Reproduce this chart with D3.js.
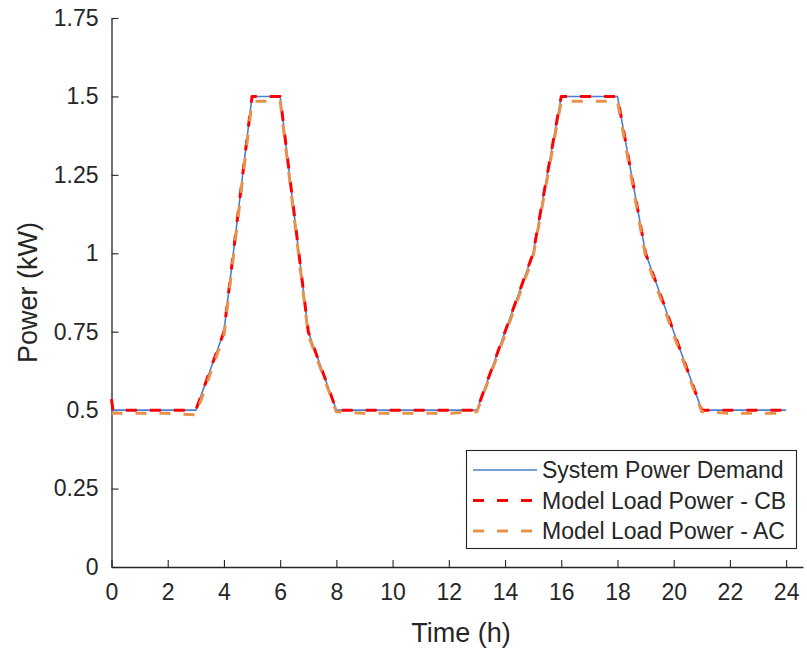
<!DOCTYPE html>
<html>
<head>
<meta charset="utf-8">
<script src="https://cdn.jsdelivr.net/npm/d3@7"></script>
<style>
  body { margin: 0; background: #fff; }
  text { font-family: "Liberation Sans", Arial, sans-serif; fill: #262626; }
</style>
</head>
<body>
<svg id="chart" width="807" height="656"></svg>
<script>
  'use strict'

  // Hourly time grid (h).
  var hours = [0,1,2,3,4,5,6,7,8,9,10,11,12,13,14,15,16,17,18,19,20,21,22,23,24];

  // System power demand (kW).
  var demand = [0.5,0.5,0.5,0.5,0.75,1.5,1.5,0.75,0.5,0.5,0.5,0.5,0.5,0.5,0.75,1.0,1.5,1.5,1.5,1.0,0.75,0.5,0.5,0.5,0.5];

  // Model load power - CB (starts slightly high at t=0).
  var cbTime  = [0,0.05,1,2,3,4,5,6,7,8,9,10,11,12,13,14,15,16,17,18,19,20,21,22,23,24];
  var cbPower = [0.535,0.5,0.5,0.5,0.5,0.75,1.5,1.5,0.75,0.5,0.5,0.5,0.5,0.5,0.5,0.75,1.0,1.5,1.5,1.5,1.0,0.75,0.5,0.5,0.5,0.5];

  // Model load power - AC (sits a little below demand).
  var acPower = [0.49,0.49,0.49,0.485,0.74,1.485,1.485,0.74,0.495,0.49,0.49,0.49,0.49,0.495,0.74,0.99,1.485,1.485,1.485,0.99,0.74,0.495,0.49,0.49,0.49];

  var xTicks = [0,2,4,6,8,10,12,14,16,18,20,22,24];
  var yTicks = [0,0.25,0.5,0.75,1,1.25,1.5,1.75];

  var legendNames = ['System Power Demand', 'Model Load Power - CB', 'Model Load Power - AC'];

  var svg = d3.select('#chart');

  var x = d3.scaleLinear().domain([0, 24.6]).range([111.5, 803]);
  var y = d3.scaleLinear().domain([0, 1.75]).range([567, 18]);

  var axisColor = '#262626';

  // Axes.
  var gx = svg.append('g')
    .attr('transform', 'translate(0,' + y(0) + ')')
    .call(d3.axisBottom(x).tickValues(xTicks).tickFormat(d3.format('d'))
      .tickSizeInner(-7).tickSizeOuter(0).tickPadding(17));
  var gy = svg.append('g')
    .attr('transform', 'translate(' + x(0) + ',0)')
    .call(d3.axisLeft(y).tickValues(yTicks).tickFormat(function(d) { return String(d); })
      .tickSizeInner(-7).tickSizeOuter(0).tickPadding(13));

  [gx, gy].forEach(function(g) {
    g.select('.domain').attr('stroke', axisColor).attr('stroke-width', 1.3);
    g.selectAll('.tick line').attr('stroke', axisColor).attr('stroke-width', 1.1);
    g.selectAll('.tick text')
      .style('font-family', '"Liberation Sans", Arial, sans-serif')
      .style('font-size', '23px')
      .attr('fill', axisColor);
  });

  // Axis titles.
  svg.append('text')
    .attr('x', 461).attr('y', 642)
    .attr('text-anchor', 'middle')
    .style('font-size', '27px')
    .text('Time (h)');
  svg.append('text')
    .attr('transform', 'translate(37,' + ((y(0) + y(1.75)) / 2) + ') rotate(-90)')
    .attr('text-anchor', 'middle')
    .style('font-size', '27px')
    .text('Power (kW)');

  // Series.
  var line = d3.line().x(function(d) { return x(d[0]); }).y(function(d) { return y(d[1]); });

  var series = [
    { pts: d3.zip(hours, demand),  color: '#4D7FD0', width: 1.6, dash: null },
    { pts: d3.zip(cbTime, cbPower), color: '#FF0000', width: 3,   dash: '11,13' },
    { pts: d3.zip(hours, acPower), color: '#E8914A', width: 3,   dash: '11,13' }
  ];

  series.forEach(function(s) {
    svg.append('path')
      .datum(s.pts)
      .attr('d', line)
      .attr('fill', 'none')
      .attr('stroke', s.color)
      .attr('stroke-width', s.width)
      .attr('stroke-dasharray', s.dash)
      .attr('stroke-linejoin', 'round');
  });

  // Legend.
  var lg = svg.append('g');
  lg.append('rect')
    .attr('x', 466.5).attr('y', 450.5)
    .attr('width', 330).attr('height', 98)
    .attr('fill', '#fff')
    .attr('stroke', axisColor).attr('stroke-width', 1.1);

  legendNames.forEach(function(name, i) {
    var cy = 470 + i * 30.5;
    lg.append('line')
      .attr('x1', 473).attr('x2', 537)
      .attr('y1', cy).attr('y2', cy)
      .attr('stroke', series[i].color)
      .attr('stroke-width', series[i].width)
      .attr('stroke-dasharray', series[i].dash);
    lg.append('text')
      .attr('x', 542).attr('y', cy)
      .attr('dy', '0.36em')
      .style('font-size', '23px')
      .text(name);
  });
</script>
</body>
</html>
